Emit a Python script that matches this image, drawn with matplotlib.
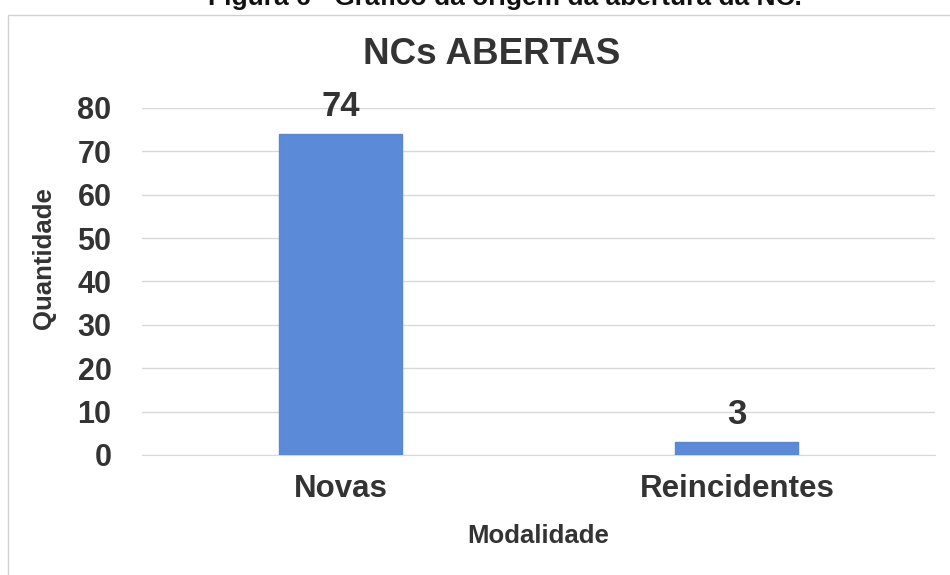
import matplotlib
matplotlib.use("Agg")
import matplotlib.pyplot as plt
from matplotlib.patches import Rectangle

categories = ["Novas", "Reincidentes"]
values = [74, 3]
yticks = [0, 10, 20, 30, 40, 50, 60, 70, 80]

plt.rcParams['font.family'] = ['Liberation Sans', 'DejaVu Sans']

fig = plt.figure(figsize=(9.5, 5.75), dpi=100)
fig.patch.set_facecolor("white")
ax = fig.add_axes([0.1495, 0.2087, 0.835, 0.6035])

x = list(range(len(categories)))
bars = ax.bar(x, values, width=0.31, color="#5b8ad8", edgecolor="#5a86d2", linewidth=1.0, zorder=3)
for xi, v in zip(x, values):
    ax.text(xi, v + 2.6, str(v), ha="center", va="bottom", fontsize=25, fontweight="bold", color="#333333")

ax.set_xlim(-0.5, 1.5)
ax.set_ylim(0, 80)
ax.set_yticks(yticks)
ax.set_xticks(x)
ax.set_xticklabels(categories, fontsize=22.5, fontweight="bold", color="#333333")
ax.tick_params(axis="y", labelsize=22, length=0, pad=22, labelcolor="#333333")
for lbl in ax.get_yticklabels():
    lbl.set_fontweight("bold")
ax.tick_params(axis="x", length=0, pad=14)
ax.grid(axis="y", color="#d9d9d9", linewidth=1.0, zorder=0)
for s in ["top", "right", "left"]:
    ax.spines[s].set_visible(False)
ax.spines["bottom"].set_color("#d9d9d9")

ax.set_ylabel("Quantidade", fontsize=18.5, fontweight="bold", color="#333333")
ax.yaxis.set_label_coords(-0.108, 0.568)
ax.set_xlabel("Modalidade", fontsize=18.5, fontweight="bold", color="#333333", labelpad=14)

fig.text(0.517, 0.905, "NCs ABERTAS", ha="center", va="center", fontsize=26.5, fontweight="bold", color="#333333")
fig.text(0.532, 1.004, "Figura 6 - Gráfico da origem da abertura da NC.", ha="center", va="center",
         fontsize=19, fontweight="bold", color="#111111")

fig.patches.append(Rectangle((8/950, -0.01), 1.0, 0.984, transform=fig.transFigure, fill=False,
                             edgecolor="#d0d0d0", linewidth=1.0))

fig.savefig("out.png", dpi=100)
